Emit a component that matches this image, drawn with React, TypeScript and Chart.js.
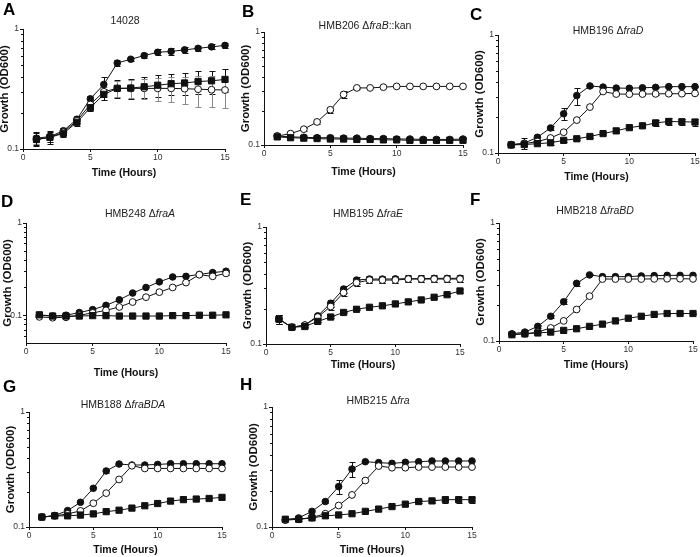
import React, { useEffect, useRef } from "react";
import { Chart, registerables } from "chart.js";

Chart.register(...registerables);

const FONT = "'Liberation Sans', Arial, Helvetica, sans-serif";
Chart.defaults.font.family = FONT;

// ---------- shared axis values ----------
const HOURS = [1, 2, 3, 4, 5, 6, 7, 8, 9, 10, 11, 12, 13, 14, 15];
const X_TICKS = [0, 5, 10, 15];
const Y_MAJOR = [0.1, 1];
const Y_MINOR = [0.2, 0.3, 0.4, 0.5, 0.6, 0.7, 0.8, 0.9];
const Y_MINOR_LOW = [0.06, 0.07, 0.08, 0.09, 0.2, 0.3, 0.4, 0.5, 0.6, 0.7, 0.8, 0.9];

// ---------- Panel A: 14028 ----------
const A_FILLED = [0.123, 0.127, 0.142, 0.177, 0.262, 0.345, 0.52, 0.56, 0.6, 0.64, 0.65, 0.67, 0.69, 0.71, 0.73];
const A_FILLED_ERR = [0.015, 0.012, 0.008, 0.012, 0.015, 0.05, 0.03, 0.015, 0.025, 0.035, 0.04, 0.04, 0.035, 0.035, 0.035];
const A_OPEN = [0.12, 0.125, 0.138, 0.172, 0.235, 0.3, 0.32, 0.32, 0.32, 0.32, 0.32, 0.318, 0.315, 0.312, 0.31];
const A_OPEN_ERR = [0.01, 0.01, 0.008, 0.01, 0.015, 0.03, 0.05, 0.055, 0.06, 0.07, 0.075, 0.08, 0.09, 0.09, 0.09];
const A_SQUARE = [0.12, 0.125, 0.135, 0.167, 0.221, 0.285, 0.32, 0.322, 0.33, 0.34, 0.35, 0.355, 0.365, 0.37, 0.38];
const A_SQUARE_ERR = [0.015, 0.015, 0.01, 0.012, 0.015, 0.03, 0.055, 0.06, 0.065, 0.07, 0.07, 0.075, 0.08, 0.08, 0.08];

// ---------- Panel B: HMB206 ----------
const B_FILLED = [0.12, 0.118, 0.117, 0.116, 0.116, 0.115, 0.115, 0.114, 0.114, 0.113, 0.113, 0.112, 0.112, 0.112, 0.113];
const B_FILLED_ERR = [0, 0, 0, 0, 0, 0, 0, 0, 0, 0, 0, 0, 0, 0, 0];
const B_OPEN = [0.12, 0.126, 0.138, 0.16, 0.205, 0.28, 0.32, 0.32, 0.325, 0.33, 0.33, 0.33, 0.33, 0.33, 0.33];
const B_OPEN_ERR = [0, 0, 0.004, 0.007, 0.012, 0.02, 0.004, 0, 0, 0, 0, 0, 0, 0, 0];
const B_SQUARE = [0.118, 0.116, 0.115, 0.114, 0.113, 0.113, 0.112, 0.112, 0.111, 0.111, 0.11, 0.11, 0.11, 0.11, 0.11];
const B_SQUARE_ERR = [0, 0, 0, 0, 0, 0, 0, 0, 0, 0, 0, 0, 0, 0, 0];

// ---------- Panel C: HMB196 ----------
const C_FILLED = [0.118, 0.121, 0.136, 0.163, 0.215, 0.307, 0.37, 0.362, 0.355, 0.354, 0.357, 0.36, 0.365, 0.365, 0.365];
const C_FILLED_ERR = [0.005, 0.012, 0.005, 0.005, 0.025, 0.05, 0.005, 0.004, 0.005, 0.005, 0.005, 0.005, 0.005, 0.005, 0.005];
const C_OPEN = [0.117, 0.12, 0.125, 0.134, 0.15, 0.19, 0.245, 0.332, 0.316, 0.315, 0.316, 0.317, 0.318, 0.318, 0.32];
const C_OPEN_ERR = [0, 0, 0, 0, 0, 0, 0, 0.004, 0.004, 0.004, 0.004, 0.004, 0.004, 0.004, 0.004];
const C_SQUARE = [0.117, 0.118, 0.12, 0.122, 0.128, 0.132, 0.138, 0.146, 0.154, 0.164, 0.17, 0.18, 0.185, 0.184, 0.183];
const C_SQUARE_ERR = [0.004, 0.004, 0.004, 0.004, 0.003, 0.003, 0.003, 0.003, 0.003, 0.004, 0.005, 0.01, 0.012, 0.012, 0.012];

// ---------- Panel D: HMB248 ----------
const D_FILLED = [0.1, 0.098, 0.1, 0.107, 0.115, 0.128, 0.147, 0.174, 0.2, 0.23, 0.26, 0.264, 0.277, 0.29, 0.3];
const D_FILLED_ERR = [0, 0, 0, 0, 0, 0, 0, 0, 0, 0, 0, 0, 0, 0, 0.008];
const D_OPEN = [0.096, 0.094, 0.095, 0.1, 0.106, 0.113, 0.123, 0.139, 0.157, 0.178, 0.2, 0.226, 0.275, 0.264, 0.284];
const D_OPEN_ERR = [0, 0, 0, 0, 0, 0, 0, 0, 0, 0, 0, 0, 0, 0, 0.008];
const D_SQUARE = [0.101, 0.098, 0.098, 0.098, 0.099, 0.099, 0.098, 0.098, 0.098, 0.098, 0.099, 0.099, 0.1, 0.1, 0.101];
const D_SQUARE_ERR = [0, 0, 0, 0, 0, 0, 0, 0, 0, 0, 0, 0, 0, 0, 0];

// ---------- Panel E: HMB195 ----------
const E_FILLED = [0.163, 0.139, 0.145, 0.174, 0.223, 0.295, 0.352, 0.359, 0.359, 0.36, 0.362, 0.362, 0.364, 0.364, 0.365];
const E_FILLED_ERR = [0.015, 0.004, 0.004, 0.006, 0.015, 0.02, 0.025, 0.025, 0.025, 0.025, 0.025, 0.025, 0.025, 0.025, 0.025];
const E_OPEN = [0.163, 0.139, 0.145, 0.17, 0.209, 0.275, 0.334, 0.352, 0.352, 0.352, 0.359, 0.359, 0.359, 0.359, 0.359];
const E_OPEN_ERR = [0.015, 0.004, 0.004, 0.006, 0.012, 0.018, 0.02, 0.02, 0.02, 0.02, 0.02, 0.02, 0.02, 0.02, 0.02];
const E_SQUARE = [0.163, 0.139, 0.141, 0.156, 0.17, 0.186, 0.198, 0.206, 0.212, 0.22, 0.229, 0.238, 0.251, 0.264, 0.284];
const E_SQUARE_ERR = [0.015, 0.003, 0.003, 0.003, 0.003, 0.003, 0.003, 0.003, 0.003, 0.004, 0.004, 0.005, 0.006, 0.008, 0.01];

// ---------- Panel F: HMB218 ----------
const F_FILLED = [0.115, 0.119, 0.133, 0.162, 0.215, 0.308, 0.363, 0.351, 0.351, 0.351, 0.356, 0.358, 0.36, 0.36, 0.36];
const F_FILLED_ERR = [0, 0, 0.003, 0.004, 0.01, 0.015, 0.004, 0, 0, 0, 0, 0, 0, 0, 0];
const F_OPEN = [0.114, 0.115, 0.119, 0.129, 0.148, 0.185, 0.24, 0.335, 0.335, 0.335, 0.335, 0.336, 0.337, 0.337, 0.336];
const F_OPEN_ERR = [0, 0, 0, 0, 0, 0, 0, 0, 0, 0, 0, 0, 0, 0, 0];
const F_SQUARE = [0.113, 0.115, 0.117, 0.119, 0.123, 0.127, 0.133, 0.139, 0.148, 0.156, 0.162, 0.168, 0.171, 0.171, 0.171];
const F_SQUARE_ERR = [0, 0, 0, 0, 0, 0, 0, 0, 0, 0, 0, 0, 0.003, 0.003, 0.003];

// ---------- Panel G: HMB188 ----------
const G_FILLED = [0.122, 0.126, 0.139, 0.164, 0.217, 0.307, 0.353, 0.346, 0.346, 0.35, 0.355, 0.355, 0.355, 0.355, 0.355];
const G_FILLED_ERR = [0, 0, 0, 0, 0, 0.012, 0, 0, 0, 0, 0, 0, 0, 0, 0];
const G_OPEN = [0.122, 0.125, 0.13, 0.138, 0.161, 0.197, 0.259, 0.341, 0.323, 0.323, 0.323, 0.323, 0.323, 0.323, 0.323];
const G_OPEN_ERR = [0, 0, 0, 0, 0, 0, 0, 0, 0, 0, 0, 0, 0, 0, 0];
const G_SQUARE = [0.122, 0.125, 0.125, 0.127, 0.13, 0.136, 0.14, 0.146, 0.153, 0.16, 0.168, 0.173, 0.175, 0.177, 0.181];
const G_SQUARE_ERR = [0, 0, 0, 0, 0, 0, 0, 0, 0, 0, 0, 0, 0, 0, 0];

// ---------- Panel H: HMB215 ----------
const H_FILLED = [0.115, 0.119, 0.135, 0.163, 0.217, 0.304, 0.35, 0.344, 0.339, 0.346, 0.35, 0.355, 0.355, 0.355, 0.355];
const H_FILLED_ERR = [0, 0, 0, 0.004, 0.028, 0.045, 0.004, 0, 0, 0, 0, 0, 0, 0, 0];
const H_OPEN = [0.114, 0.116, 0.12, 0.129, 0.151, 0.185, 0.244, 0.322, 0.312, 0.312, 0.316, 0.316, 0.316, 0.316, 0.316];
const H_OPEN_ERR = [0, 0, 0, 0, 0, 0, 0, 0, 0, 0, 0, 0, 0, 0, 0];
const H_SQUARE = [0.116, 0.116, 0.119, 0.124, 0.126, 0.129, 0.135, 0.141, 0.148, 0.155, 0.163, 0.165, 0.169, 0.169, 0.169];
const H_SQUARE_ERR = [0.003, 0.003, 0, 0, 0, 0, 0, 0, 0, 0, 0.004, 0.006, 0.01, 0.01, 0.01];

// ---------- layout (positions / styles only) ----------
type Area = { l: number; r: number; t: number; b: number };
type PanelCfg = {
  letter: string;
  letterPos: [number, number];
  title: React.ReactNode;
  titlePos: [number, number];
  area: Area;
  yMin: number;
  minor: number[];
  xTitleGap: number;
  filled: number[]; filledErr: number[];
  open: number[]; openErr: number[]; openErrColor?: string;
  square: number[]; squareErr: number[];
};

const PANELS: PanelCfg[] = [
  { letter: "A", letterPos: [3, 3], title: <>14028</>, titlePos: [125, 20],
    area: { l: 23, r: 225, t: 29, b: 149 }, yMin: 0.1, minor: Y_MINOR, xTitleGap: 24,
    filled: A_FILLED, filledErr: A_FILLED_ERR, open: A_OPEN, openErr: A_OPEN_ERR, openErrColor: "#8a8a8a",
    square: A_SQUARE, squareErr: A_SQUARE_ERR },
  { letter: "B", letterPos: [242, 5], title: <>HMB206 Δ<i>fraB</i>::kan</>, titlePos: [365, 25],
    area: { l: 264, r: 463, t: 32, b: 145 }, yMin: 0.1, minor: Y_MINOR, xTitleGap: 27,
    filled: B_FILLED, filledErr: B_FILLED_ERR, open: B_OPEN, openErr: B_OPEN_ERR,
    square: B_SQUARE, squareErr: B_SQUARE_ERR },
  { letter: "C", letterPos: [470, 8], title: <>HMB196 Δ<i>fraD</i></>, titlePos: [608, 30],
    area: { l: 498, r: 695, t: 35, b: 153 }, yMin: 0.1, minor: Y_MINOR, xTitleGap: 24,
    filled: C_FILLED, filledErr: C_FILLED_ERR, open: C_OPEN, openErr: C_OPEN_ERR,
    square: C_SQUARE, squareErr: C_SQUARE_ERR },
  { letter: "D", letterPos: [1, 195], title: <>HMB248 Δ<i>fraA</i></>, titlePos: [140, 213],
    area: { l: 26, r: 226, t: 223, b: 343 }, yMin: 0.05, minor: Y_MINOR_LOW, xTitleGap: 30,
    filled: D_FILLED, filledErr: D_FILLED_ERR, open: D_OPEN, openErr: D_OPEN_ERR,
    square: D_SQUARE, squareErr: D_SQUARE_ERR },
  { letter: "E", letterPos: [240, 193], title: <>HMB195 Δ<i>fraE</i></>, titlePos: [368, 213],
    area: { l: 266, r: 460, t: 227, b: 344 }, yMin: 0.1, minor: Y_MINOR, xTitleGap: 21,
    filled: E_FILLED, filledErr: E_FILLED_ERR, open: E_OPEN, openErr: E_OPEN_ERR,
    square: E_SQUARE, squareErr: E_SQUARE_ERR },
  { letter: "F", letterPos: [470, 193], title: <>HMB218 Δ<i>fraBD</i></>, titlePos: [595, 210],
    area: { l: 499, r: 693, t: 223, b: 341 }, yMin: 0.1, minor: Y_MINOR, xTitleGap: 24,
    filled: F_FILLED, filledErr: F_FILLED_ERR, open: F_OPEN, openErr: F_OPEN_ERR,
    square: F_SQUARE, squareErr: F_SQUARE_ERR },
  { letter: "G", letterPos: [3, 380], title: <>HMB188 Δ<i>fraBDA</i></>, titlePos: [123, 404],
    area: { l: 29, r: 222, t: 412, b: 527 }, yMin: 0.1, minor: Y_MINOR, xTitleGap: 23,
    filled: G_FILLED, filledErr: G_FILLED_ERR, open: G_OPEN, openErr: G_OPEN_ERR,
    square: G_SQUARE, squareErr: G_SQUARE_ERR },
  { letter: "H", letterPos: [240, 378], title: <>HMB215 Δ<i>fra</i></>, titlePos: [378, 400],
    area: { l: 272, r: 472, t: 407, b: 527 }, yMin: 0.1, minor: Y_MINOR, xTitleGap: 23,
    filled: H_FILLED, filledErr: H_FILLED_ERR, open: H_OPEN, openErr: H_OPEN_ERR,
    square: H_SQUARE, squareErr: H_SQUARE_ERR },
];

const YW = 28; // y-axis box width
const PT = 12; // top padding
const PR = 12; // right padding
const XH = 38; // x-axis box height
const INK = "#111";
const Y_TITLE_SIZE = 11.5;

const errorBarPlugin = {
  id: "errorBars",
  beforeDatasetsDraw(chart: any) {
    const ctx = chart.ctx;
    const ys = chart.scales.y;
    chart.data.datasets.forEach((ds: any, i: number) => {
      const errs: number[] | undefined = ds.errorBars;
      if (!errs) return;
      const meta = chart.getDatasetMeta(i);
      ctx.save();
      ctx.strokeStyle = ds.errorColor || INK;
      ctx.lineWidth = 1;
      meta.data.forEach((pt: any, j: number) => {
        const e = errs[j];
        if (!e) return;
        const v = ds.data[j].y;
        const yTop = Math.round(ys.getPixelForValue(v + e)) + 0.5;
        const yBot = Math.round(ys.getPixelForValue(Math.max(v - e, 0.001))) + 0.5;
        const x = Math.round(pt.x) + 0.5;
        ctx.beginPath();
        ctx.moveTo(x, yTop);
        ctx.lineTo(x, yBot);
        ctx.moveTo(x - 3, yTop);
        ctx.lineTo(x + 3, yTop);
        ctx.moveTo(x - 3, yBot);
        ctx.lineTo(x + 3, yBot);
        ctx.stroke();
      });
      ctx.restore();
    });
  },
};

function Panel({ cfg }: { cfg: PanelCfg }) {
  const ref = useRef<HTMLCanvasElement | null>(null);
  const { area } = cfg;
  const cw = YW + (area.r - area.l) + PR;
  const ch = PT + (area.b - area.t) + XH;
  const left = area.l - YW;
  const top = area.t - PT;

  useEffect(() => {
    if (!ref.current) return;
    const toPts = (vals: number[]) => HOURS.map((x, i) => ({ x, y: vals[i] }));
    const base = { borderColor: INK, borderWidth: 1, tension: 0, clip: false as any, pointBorderColor: INK, pointBorderWidth: 1 };
    const minorPlugin = {
      id: "minorTicks",
      afterDraw(chart: any) {
        const ys = chart.scales.y;
        const ctx = chart.ctx;
        const x0 = chart.chartArea.left;
        ctx.save();
        ctx.strokeStyle = INK;
        ctx.lineWidth = 1;
        ctx.beginPath();
        cfg.minor.forEach((v) => {
          if (v < cfg.yMin) return;
          const y = Math.round(ys.getPixelForValue(v)) + 0.5;
          ctx.moveTo(x0 - 2, y);
          ctx.lineTo(x0, y);
        });
        ctx.stroke();
        ctx.restore();
      },
    };
    const chart = new Chart(ref.current, {
      type: "line",
      data: {
        datasets: [
          { ...base, data: toPts(cfg.square), pointStyle: "rect", pointRadius: 4.4, pointBackgroundColor: INK,
            errorBars: cfg.squareErr } as any,
          { ...base, data: toPts(cfg.open), pointStyle: "circle", pointRadius: 3.4, pointBackgroundColor: "#fff",
            errorBars: cfg.openErr, errorColor: cfg.openErrColor } as any,
          { ...base, data: toPts(cfg.filled), pointStyle: "circle", pointRadius: 3.3, pointBackgroundColor: INK,
            errorBars: cfg.filledErr } as any,
        ],
      },
      options: {
        animation: false,
        responsive: false,
        devicePixelRatio: 1,
        layout: { padding: { left: 0, top: PT, right: PR, bottom: 0 } },
        plugins: { legend: { display: false }, tooltip: { enabled: false } },
        events: [],
        scales: {
          x: {
            type: "linear",
            min: 0,
            max: 15,
            afterBuildTicks: (s: any) => { s.ticks = X_TICKS.map((v) => ({ value: v })); },
            afterFit: (s: any) => { s.height = XH; s.paddingLeft = 0; s.paddingRight = 0; },
            grid: { display: true, drawOnChartArea: false, drawTicks: true, tickLength: 3, color: INK, tickColor: INK, lineWidth: 1 },
            border: { display: true, color: INK, width: 1 },
            ticks: { font: { size: 8.5 }, color: "#333", padding: 1, maxRotation: 0, autoSkip: false },
            title: { display: true, text: "Time (Hours)", color: INK, font: { size: 10.5, weight: "bold" },
              padding: { top: 0, bottom: XH - cfg.xTitleGap - 6.3 } },
          },
          y: {
            type: "logarithmic",
            min: cfg.yMin,
            max: 1,
            afterBuildTicks: (s: any) => { s.ticks = Y_MAJOR.map((v) => ({ value: v })); },
            afterFit: (s: any) => { s.width = YW; s.paddingTop = 0; s.paddingBottom = 0; },
            grid: { display: true, drawOnChartArea: false, drawTicks: true, tickLength: 3, color: INK, tickColor: INK, lineWidth: 1 },
            border: { display: true, color: INK, width: 1 },
            ticks: { font: { size: 8.5 }, color: "#333", padding: 1, autoSkip: false, callback: (v: any) => String(v) },
            title: { display: true, text: "Growth (OD600)", color: INK, font: { size: Y_TITLE_SIZE, weight: "bold" },
              padding: { top: YW - 18 - Y_TITLE_SIZE * 0.6, bottom: 0 } },
          },
        },
      } as any,
      plugins: [errorBarPlugin, minorPlugin],
    });
    return () => chart.destroy();
  }, []);

  return (
    <>
      <canvas
        ref={ref}
        width={cw}
        height={ch}
        style={{ position: "absolute", left, top, width: cw, height: ch }}
      />
      <div
        style={{
          position: "absolute", left: cfg.titlePos[0], top: cfg.titlePos[1],
          transform: "translate(-50%, -50%)", whiteSpace: "nowrap",
          fontSize: 10.5, color: "#222", lineHeight: 1,
        }}
      >
        {cfg.title}
      </div>
      <div
        style={{
          position: "absolute", left: cfg.letterPos[0], top: cfg.letterPos[1] - 2,
          fontSize: 17, fontWeight: "bold", color: "#000", lineHeight: 1,
        }}
      >
        {cfg.letter}
      </div>
    </>
  );
}

export default function App() {
  return (
    <div
      style={{
        position: "fixed", left: 0, top: 0, width: 700, height: 557,
        background: "#fff", fontFamily: FONT, overflow: "hidden",
      }}
    >
      {PANELS.map((p) => (
        <Panel key={p.letter} cfg={p} />
      ))}
    </div>
  );
}
